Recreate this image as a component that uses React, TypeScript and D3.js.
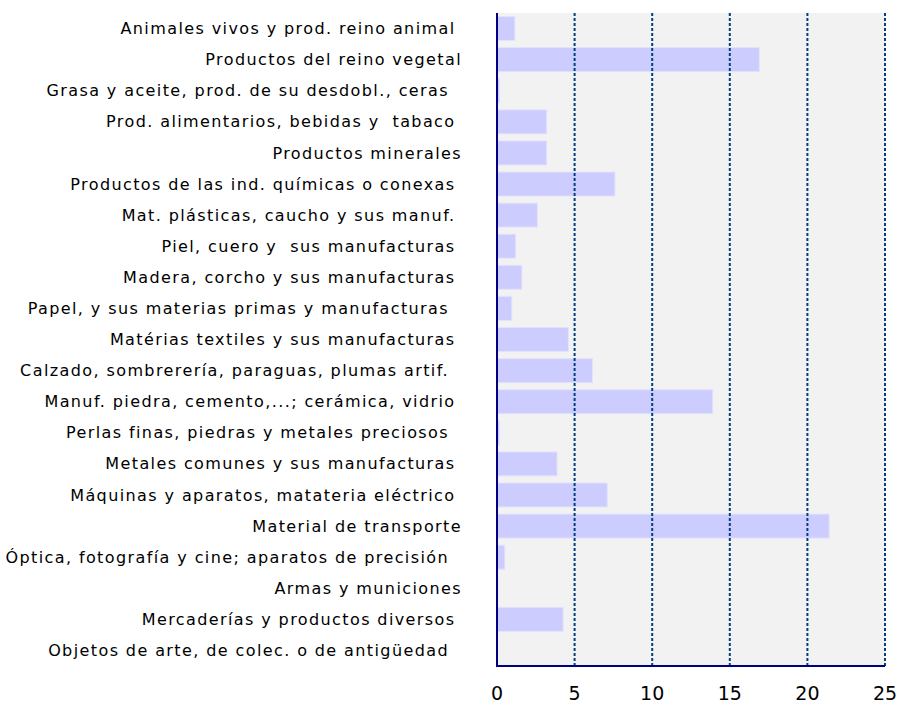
import React from "react";
import * as d3 from "d3";

// labels keep their trailing spaces, like the source sheet
const categories = [
  "Animales vivos y prod. reino animal ",
  "Productos del reino vegetal",
  "Grasa y aceite, prod. de su desdobl., ceras  ",
  "Prod. alimentarios, bebidas y  tabaco ",
  "Productos minerales",
  "Productos de las ind. químicas o conexas ",
  "Mat. plásticas, caucho y sus manuf. ",
  "Piel, cuero y  sus manufacturas ",
  "Madera, corcho y sus manufacturas ",
  "Papel, y sus materias primas y manufacturas  ",
  "Matérias textiles y sus manufacturas ",
  "Calzado, sombrerería, paraguas, plumas artif.  ",
  "Manuf. piedra, cemento,...; cerámica, vidrio ",
  "Perlas finas, piedras y metales preciosos  ",
  "Metales comunes y sus manufacturas ",
  "Máquinas y aparatos, matateria eléctrico ",
  "Material de transporte",
  "Óptica, fotografía y cine; aparatos de precisión  ",
  "Armas y municiones",
  "Mercaderías y productos diversos ",
  "Objetos de arte, de colec. o de antigüedad  ",
];

const values = [
  1.15, 16.9, 0.15, 3.2, 3.2, 7.6, 2.6, 1.2, 1.6, 0.95, 4.6, 6.15, 13.9, 0.15,
  3.87, 7.1, 21.4, 0.5, 0.05, 4.26, 0,
];

const xTicks = [0, 5, 10, 15, 20, 25];

const W = 899;
const H = 704;
const plot = { left: 497, right: 885, top: 13, bottom: 666 };

export default function App() {
  const x = d3.scaleLinear().domain([0, 25]).range([plot.left, plot.right]);
  const y = d3
    .scaleBand<number>()
    .domain(d3.range(categories.length))
    .range([plot.top, plot.bottom])
    .paddingInner(0.23)
    .paddingOuter(0.115);
  const step = y.step();

  return (
    <div style={{ position: "absolute", left: 0, top: 0 }}>
      <svg width={W} height={H} style={{ display: "block", background: "#fff" }}>
        <rect
          x={plot.left}
          y={plot.top}
          width={plot.right - plot.left}
          height={plot.bottom - plot.top}
          fill="#f2f2f2"
        />
        {values.map((v, i) => (
          <rect
            key={i}
            x={x(0)}
            y={y(i)}
            width={Math.max(0, x(v) - x(0))}
            height={y.bandwidth()}
            fill="#ccccff"
            stroke="#e2e2fa"
            strokeWidth={1}
          />
        ))}
        {xTicks.map((t) => (
          <line
            key={t}
            x1={x(t)}
            x2={x(t)}
            y1={plot.top}
            y2={plot.bottom}
            stroke="#004080"
            strokeWidth={2}
            strokeDasharray="3 2"
          />
        ))}
        <line
          x1={plot.left}
          x2={plot.left}
          y1={plot.top}
          y2={plot.bottom}
          stroke="#000080"
          strokeWidth={2}
        />
        <line
          x1={plot.left - 1}
          x2={plot.right}
          y1={plot.bottom}
          y2={plot.bottom}
          stroke="#000080"
          strokeWidth={2}
        />
        {categories.map((c, i) => (
          <text
            key={i}
            x={462}
            y={plot.top + step * (i + 0.5)}
            dy="0.35em"
            textAnchor="end"
            fontFamily="DejaVu Sans, Verdana, sans-serif"
            fontSize={16}
            letterSpacing={1.4}
            fill="#000"
            style={{ whiteSpace: "pre" }}
          >
            {c}
          </text>
        ))}
        {xTicks.map((t) => (
          <text
            key={t}
            x={x(t)}
            y={700}
            textAnchor="middle"
            fontFamily="DejaVu Sans, Verdana, sans-serif"
            fontSize={19}
            fill="#000"
          >
            {t}
          </text>
        ))}
      </svg>
    </div>
  );
}
